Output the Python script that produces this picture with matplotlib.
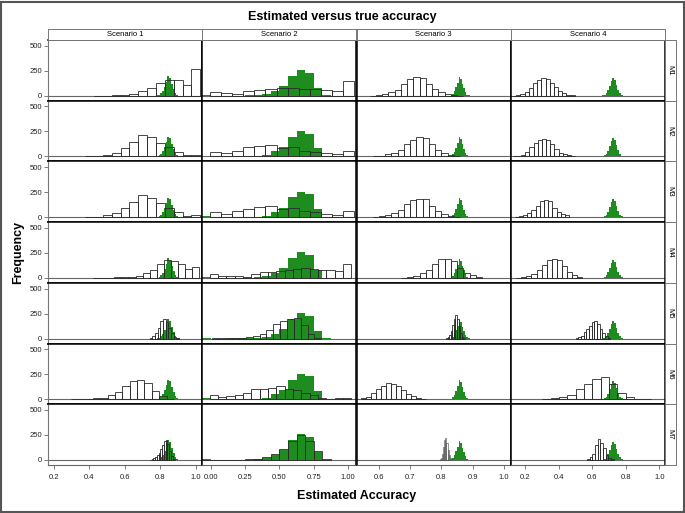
import matplotlib
matplotlib.use('Agg')
import matplotlib.pyplot as plt
import numpy as np
from matplotlib.patches import Rectangle

plt.rcParams['font.family'] = ['Liberation Sans', 'DejaVu Sans']

scenarios = ['Scenario 1', 'Scenario 2', 'Scenario 3', 'Scenario 4']
models = ['M1', 'M2', 'M3', 'M4', 'M5', 'M6', 'M7']

# x ticks / limits of each scenario column
s1_ticks = [0.2, 0.4, 0.6, 0.8, 1.0]
s2_ticks = [0.0, 0.25, 0.5, 0.75, 1.0]
s3_ticks = [0.6, 0.7, 0.8, 0.9, 1.0]
s4_ticks = [0.2, 0.4, 0.6, 0.8, 1.0]
s1_tick_labels = ['0.2', '0.4', '0.6', '0.8', '1.0']
s2_tick_labels = ['0.00', '0.25', '0.50', '0.75', '1.00']
s3_tick_labels = ['0.6', '0.7', '0.8', '0.9', '1.0']
s4_tick_labels = ['0.2', '0.4', '0.6', '0.8', '1.0']

# true accuracy (green), same in every row of a column: first bin edge, bin width, counts
true_start = [0.78, -0.0625, 0.83, 0.66]
true_width = [0.01, 0.0625, 0.005, 0.01]
s1_true = [3, 10, 25, 50, 90, 140, 195, 180, 120, 70, 30, 10, 2]
s2_true = [8, 0, 0, 1, 2, 3, 6, 15, 50, 95, 197, 255, 228, 80, 3]
s3_true = [5, 20, 45, 85, 130, 190, 170, 120, 75, 35, 12, 3]
s4_true = [3, 10, 25, 55, 100, 150, 180, 160, 110, 60, 25, 8]

# estimated accuracy (open bars), one list per model
# scenario 1
s1_start = [0.425, 0.375, 0.375, 0.42, 0.74, 0.295, 0.74]
s1_width = [0.05, 0.05, 0.05, 0.04, 0.015, 0.0415, 0.01]
s1_m1 = [1, 2, 3, 6, 18, 45, 80, 125, 155, 160, 110, 268]
s1_m2 = [2, 5, 13, 37, 87, 147, 213, 190, 137, 90, 47, 10, 17]
s1_m3 = [2, 5, 20, 43, 90, 150, 220, 187, 137, 90, 50, 10, 20]
s1_m4 = [1, 2, 3, 4, 8, 12, 23, 50, 83, 140, 180, 170, 135, 90, 113]
s1_m5 = [10, 28, 60, 110, 175, 195, 165, 110, 55, 18, 4]
s1_m6 = [2, 3, 5, 10, 17, 40, 70, 133, 187, 190, 167, 80, 30, 5]
s1_m7 = [3, 8, 15, 25, 45, 70, 110, 150, 185, 200, 160, 90, 40, 10]
# scenario 2
s2_start = [-0.007, -0.007, -0.007, -0.01, 0.005, -0.01, -0.0625]
s2_width = [0.081, 0.081, 0.081, 0.0609, 0.05, 0.0609, 0.0625]
s2_m1 = [38, 30, 21, 45, 58, 65, 80, 80, 67, 67, 53, 45, 152]
s2_m2 = [48, 30, 58, 90, 100, 113, 88, 90, 58, 48, 30, 25, 58]
s2_m3 = [50, 32, 57, 85, 98, 113, 85, 90, 57, 50, 30, 24, 60]
s2_m4 = [35, 17, 23, 23, 13, 37, 55, 63, 72, 78, 85, 95, 90, 80, 78, 72, 143]
s2_m5 = [5, 2, 3, 4, 7, 12, 22, 50, 90, 150, 175, 193, 205, 135, 45, 8]
s2_m6 = [38, 22, 28, 38, 58, 98, 103, 112, 128, 98, 92, 58, 38, 17, 7, 8, 17]
s2_m7 = [0, 0, 1, 2, 3, 5, 13, 27, 60, 110, 193, 247, 193, 87, 5]
# scenario 3
s3_start = [0.57, 0.58, 0.58, 0.67, 0.815, 0.543, 0.795]
s3_width = [0.02, 0.02, 0.02, 0.02, 0.005, 0.016, 0.0035]
s3_m1 = [2, 7, 18, 35, 62, 122, 168, 185, 182, 122, 63, 38, 15, 7, 2]
s3_m2 = [2, 7, 20, 37, 63, 120, 165, 190, 180, 120, 63, 30, 12, 4]
s3_m3 = [2, 7, 17, 40, 73, 130, 173, 183, 180, 113, 57, 33, 13, 4]
s3_m4 = [3, 8, 23, 47, 80, 135, 187, 187, 170, 97, 47, 28, 12]
s3_m5 = [5, 15, 35, 75, 140, 200, 240, 200, 130, 60, 20, 5]
s3_m6 = [10, 27, 60, 103, 137, 160, 155, 133, 93, 53, 33, 17, 7]
s3_m7 = [5, 20, 60, 130, 200, 220, 170, 100, 45, 15, 5]
# scenario 4
s4_start = [0.12, 0.123, 0.136, 0.146, 0.50, 0.30, 0.567]
s4_width = [0.025, 0.025, 0.025, 0.03, 0.016, 0.05, 0.016]
s4_m1 = [1, 4, 13, 40, 73, 123, 157, 173, 167, 123, 90, 47, 23, 10, 3]
s4_m2 = [2, 5, 17, 43, 93, 133, 160, 177, 167, 127, 70, 37, 20, 10, 3]
s4_m3 = [3, 7, 20, 43, 70, 110, 160, 170, 160, 93, 50, 27, 17]
s4_m4 = [2, 5, 20, 43, 83, 127, 177, 193, 177, 117, 60, 27, 10]
s4_m5 = [5, 12, 30, 63, 97, 130, 163, 180, 147, 97, 57, 23, 8]
s4_m6 = [3, 10, 27, 43, 100, 153, 200, 227, 153, 67, 27, 5, 2]
s4_m7 = [8, 27, 63, 153, 210, 170, 120, 53, 20, 5]

# collect per column
xlims = [(0.166, 1.036), (-0.063, 1.062), (0.528, 1.022), (0.112, 1.034)]
ticks = [s1_ticks, s2_ticks, s3_ticks, s4_ticks]
tick_labels = [s1_tick_labels, s2_tick_labels, s3_tick_labels, s4_tick_labels]
true_counts = [s1_true, s2_true, s3_true, s4_true]
est_start = [s1_start, s2_start, s3_start, s4_start]
est_width = [s1_width, s2_width, s3_width, s4_width]
est_counts = [
    [s1_m1, s1_m2, s1_m3, s1_m4, s1_m5, s1_m6, s1_m7],
    [s2_m1, s2_m2, s2_m3, s2_m4, s2_m5, s2_m6, s2_m7],
    [s3_m1, s3_m2, s3_m3, s3_m4, s3_m5, s3_m6, s3_m7],
    [s4_m1, s4_m2, s4_m3, s4_m4, s4_m5, s4_m6, s4_m7],
]

GREEN = '#1e8c1e'
W, H = 685, 513
LEFT, RIGHT, TOP, BOTTOM = 48, 665, 40, 465
col_w = (RIGHT - LEFT) / 4
row_h = (BOTTOM - TOP) / 7


def fx(px):
    return px / W


def fy(py):
    return 1 - py / H


fig = plt.figure(figsize=(W / 100, H / 100), dpi=100)

for r in range(7):
    for c in range(4):
        ax = fig.add_axes([fx(LEFT + c * col_w), fy(TOP + (r + 1) * row_h),
                           col_w / W, row_h / H])
        # true accuracy
        tc = np.array(true_counts[c])
        edges = true_start[c] + true_width[c] * np.arange(len(tc) + 1)
        ax.stairs(tc, edges, fill=True, color=GREEN, zorder=2)
        # estimated accuracy, very thin bins get a softer outline
        ec = np.array(est_counts[c][r])
        w = est_width[c][r]
        lefts = est_start[c][r] + w * np.arange(len(ec))
        bin_px = w / (xlims[c][1] - xlims[c][0]) * col_w
        edge = '#2a2a2a' if bin_px > 1.5 else '#555555'
        lw = 0.6 if bin_px > 1.5 else 0.45
        ax.bar(lefts, ec, width=w, align='edge',
               facecolor='none', edgecolor=edge, linewidth=lw, zorder=3)
        ax.axhline(0, color='#666666', lw=0.8, zorder=1)

        ax.set_xlim(*xlims[c])
        ax.set_ylim(-50, 557)
        for s in ax.spines.values():
            s.set_color('black')
            s.set_linewidth(1.1)

        if c == 0:
            ax.set_yticks([0, 250, 500])
            ax.tick_params(axis='y', labelsize=5.5, length=3, width=0.6,
                           color='#666666', pad=1.5, labelcolor='#222222')
            ax.spines['left'].set_color('#777777')
            ax.spines['left'].set_linewidth(0.8)
        else:
            ax.set_yticks([])
        if r == 6:
            ax.set_xticks(ticks[c])
            ax.set_xticklabels(tick_labels[c])
            ax.tick_params(axis='x', labelsize=5.5, length=3, width=0.6,
                           color='#666666', pad=3.5, labelcolor='#222222')
            ax.spines['bottom'].set_color('#666666')
            ax.spines['bottom'].set_linewidth(0.8)
        else:
            ax.set_xticks([])

# column strips
for c in range(4):
    sax = fig.add_axes([fx(LEFT + c * col_w), fy(TOP), col_w / W, 10.7 / H])
    sax.set_xticks([])
    sax.set_yticks([])
    for s in sax.spines.values():
        s.set_color('#777777')
        s.set_linewidth(0.7)
    sax.text(0.5, 0.5, scenarios[c], ha='center', va='center', fontsize=5.5,
             transform=sax.transAxes)

# row strips
for r in range(7):
    rax = fig.add_axes([fx(RIGHT), fy(TOP + (r + 1) * row_h), 10.5 / W, row_h / H])
    rax.set_xticks([])
    rax.set_yticks([])
    for s in rax.spines.values():
        s.set_color('#777777')
        s.set_linewidth(0.7)
    rax.text(0.5, 0.5, models[r], ha='center', va='center', fontsize=5.5,
             rotation=270, transform=rax.transAxes)

fig.text(0.5, fy(17), 'Estimated versus true accuracy', ha='center', va='center',
         fontsize=9, fontweight='bold')
fig.text(fx(357), fy(496), 'Estimated Accuracy', ha='center', va='center',
         fontsize=9, fontweight='bold')
fig.text(fx(18), fy(252.5), 'Frequency', ha='center', va='center', rotation=90,
         fontsize=9, fontweight='bold')

# outer frame
fig.patches.append(Rectangle((1 / W, 1 / H), 1 - 2.5 / W, 1 - 2.5 / H,
                             transform=fig.transFigure, fill=False,
                             edgecolor='#555555', linewidth=1.5))

fig.savefig('out.png', dpi=100)
